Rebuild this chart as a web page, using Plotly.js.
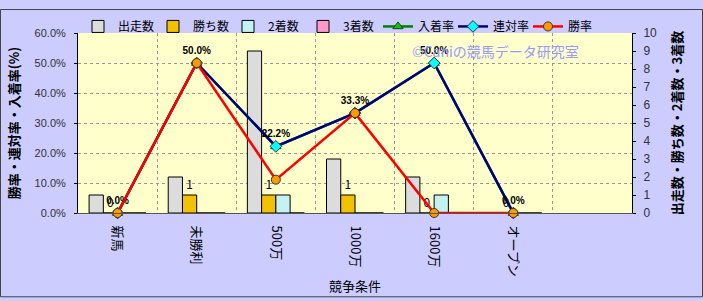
<!DOCTYPE html>
<html><head><meta charset="utf-8">
<script src="https://cdn.plot.ly/plotly-3.0.1.min.js"></script>
<style>html,body{margin:0;padding:0;background:#CCCCFF;}#chart{width:703px;height:301px;}</style>
</head><body><div id="chart"></div>
<script>
const categories = ['新馬','未勝利','500万','1000万','1600万','オープン'];
const starts  = [1, 2, 9, 3, 2, 0];
const wins    = [0, 1, 1, 1, 0, 0];
const seconds = [0, 0, 1, 0, 1, 0];
const thirds  = [0, 0, 0, 0, 0, 0];
const showRate  = [0, 50, 22.2, 33.3, 50, 0];   // 入着率
const placeRate = [0, 50, 22.2, 33.3, 50, 0];   // 連対率
const winRate   = [0, 50, 11.1, 33.3, 0, 0];    // 勝率

const JP = '"Noto Sans CJK JP", "Noto Sans", sans-serif';
const L = 78, R = 632, T = 25, B = 213, W = 703, H = 301;
const pw = R - L, ph = B - T;

function bar(name, vals, color, extra) {
  return Object.assign({
    type: 'bar', name: name, x: categories, y: vals, yaxis: 'y',
    marker: {color: color, line: {color: '#000000', width: 1}},
    hoverinfo: 'skip'
  }, extra || {});
}
function line(name, vals, lcolor, sym, mcolor, extra) {
  return Object.assign({
    type: 'scatter', mode: 'lines+markers', name: name, x: categories, y: vals, yaxis: 'y2',
    line: {color: lcolor, width: 2.5},
    marker: {symbol: sym, color: mcolor, size: 9, line: {color: '#333333', width: 1}},
    cliponaxis: false, hoverinfo: 'skip'
  }, extra || {});
}

const traces = [
  bar('出走数', starts, '#DCDCDC'),
  bar('勝ち数', wins, '#F2C200', {
    text: wins.map(String), textposition: 'outside', cliponaxis: false,
    textfont: {family: JP, size: 12, color: '#000000'}
  }),
  bar('2着数', seconds, '#C4F2F2'),
  bar('3着数', thirds, '#FF99CC'),
  line('入着率', showRate, '#008000', 'triangle-up', '#00CC00'),
  line('連対率', placeRate, '#000080', 'diamond', '#00FFFF', {
    mode: 'lines+markers+text',
    text: placeRate.map(v => v.toFixed(1) + '%'),
    textposition: 'top center',
    textfont: {family: '"Liberation Sans", Arial, sans-serif', size: 10, color: '#000000', weight: 'bold'}
  }),
  line('勝率', winRate, '#FF0000', 'circle', '#FF9900')
];

const layout = {
  width: W, height: H,
  paper_bgcolor: '#CCCCFF', plot_bgcolor: '#FFFFCC',
  margin: {l: L, r: W - R, t: T, b: H - B, pad: 0},
  font: {family: JP, size: 12, color: '#333333'},
  barmode: 'group', bargap: 0.28, bargroupgap: 0,
  showlegend: true,
  legend: {
    orientation: 'h', x: 0.0, xanchor: 'left', y: (B - 3) / ph, yanchor: 'top',
    bgcolor: 'rgba(0,0,0,0)', font: {family: JP, size: 12, color: '#000000'},
    itemwidth: 30, tracegroupgap: 0, entrywidth: 30, entrywidthmode: 'pixels'
  },
  xaxis: {
    type: 'category', range: [-0.5, 6.5], tickson: 'boundaries',
    showgrid: true, gridcolor: '#999999', griddash: 'dot', gridwidth: 1,
    showline: true, linecolor: '#555555', linewidth: 1,
    ticks: '', ticklabelstandoff: 9, tickangle: 90, automargin: false,
    tickfont: {family: JP, size: 13, color: '#000000'},
    title: {text: '競争条件', font: {family: JP, size: 13, color: '#000000'}, standoff: 6}
  },
  yaxis: {
    side: 'right', range: [0, 10], dtick: 1, showgrid: false, zeroline: false,
    showline: true, linecolor: '#000000', linewidth: 1, ticks: 'outside', ticklen: 3, tickcolor: '#000000',
    ticklabelstandoff: 5,
    tickfont: {family: '"Liberation Sans", Arial, sans-serif', size: 12, color: '#333333'},
    automargin: false,
    title: {text: '出走数・勝ち数・2着数・3着数', font: {family: JP, size: 13, color: '#000000', weight: 'bold'}, standoff: 16}
  },
  yaxis2: {
    overlaying: 'y', side: 'left', range: [0, 60], dtick: 10,
    tickformat: '.1f', ticksuffix: '%',
    showgrid: true, gridcolor: '#999999', griddash: 'dot', gridwidth: 1, zeroline: false,
    showline: true, linecolor: '#000000', linewidth: 1, ticks: 'outside', ticklen: 3, tickcolor: '#000000',
    ticklabelstandoff: 6,
    tickfont: {family: '"Liberation Sans", Arial, sans-serif', size: 11, color: '#333333'},
    automargin: false,
    title: {text: '勝率・連対率・入着率(%)', font: {family: JP, size: 13, color: '#000000', weight: 'bold'}, standoff: 12}
  },
  annotations: [{
    text: '©Caniの競馬データ研究室', xref: 'paper', yref: 'paper',
    x: (495 - L) / pw, y: (B - 44) / ph, xanchor: 'center', yanchor: 'middle',
    showarrow: false, font: {family: JP, size: 14, color: '#9999FF'}
  }],
  shapes: [{
    type: 'rect', xref: 'paper', yref: 'paper', layer: 'above',
    x0: (0.5 - L) / pw, x1: (W - 0.5 - L) / pw, y0: (B - (H - 0.5)) / ph, y1: (B - 0.5) / ph,
    line: {color: '#444444', width: 1}, fillcolor: 'rgba(0,0,0,0)'
  }]
};

Plotly.newPlot('chart', traces, layout, {displayModeBar: false, staticPlot: true});
</script></body></html>
